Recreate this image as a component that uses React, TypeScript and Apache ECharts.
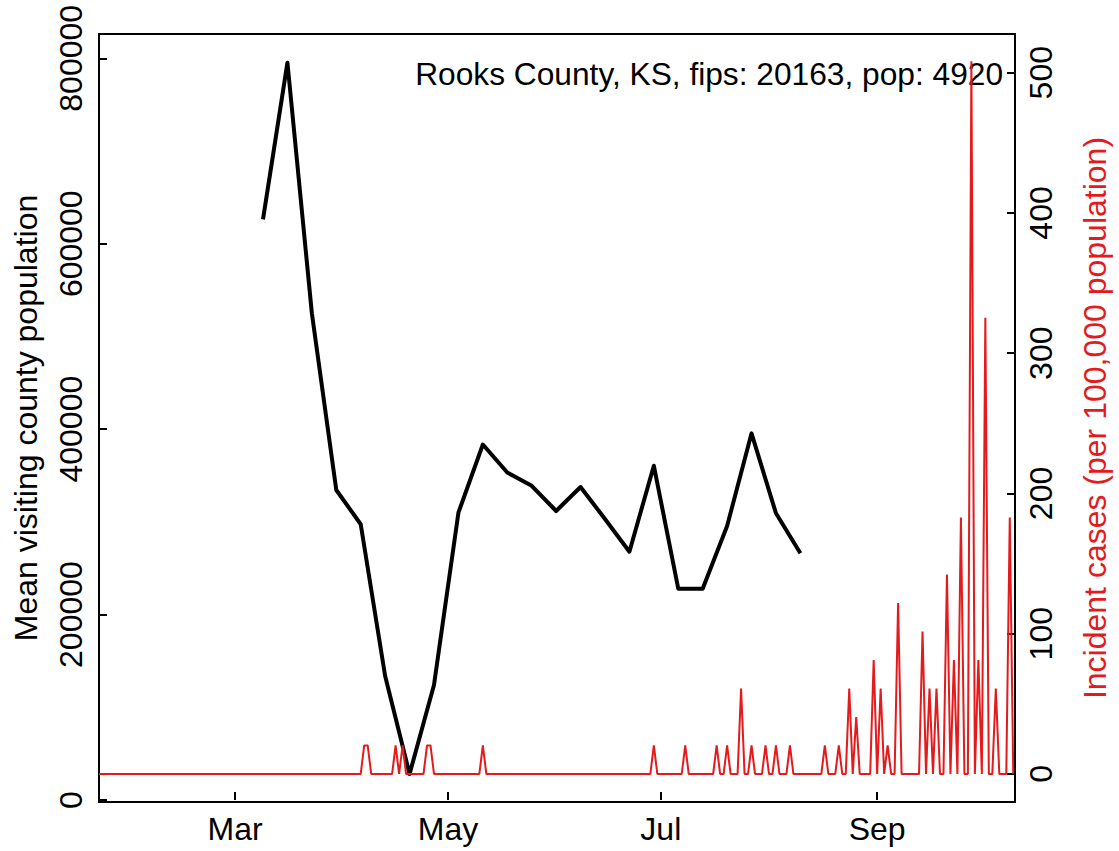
import React, { useEffect, useRef } from "react";
import * as echarts from "echarts";

// ---------- data ----------
const countyTitle = "Rooks County, KS, fips: 20163, pop: 4920";
const population = 4920;

// weekly mean visiting county population (black line)
const visitDates = [
  "2020-03-09", "2020-03-16", "2020-03-23", "2020-03-30", "2020-04-06", "2020-04-13",
  "2020-04-20", "2020-04-27", "2020-05-04", "2020-05-11", "2020-05-18", "2020-05-25",
  "2020-06-01", "2020-06-08", "2020-06-15", "2020-06-22", "2020-06-29", "2020-07-06",
  "2020-07-13", "2020-07-20", "2020-07-27", "2020-08-03", "2020-08-10",
];
const visitValues = [
  626300, 795300, 525000, 334400, 297400, 133700,
  28000, 124000, 309900, 383400, 353200, 338900,
  311700, 337600, 303100, 267800, 360600, 227900,
  227900, 295500, 395500, 309200, 266100,
];

// daily incident case counts (red line); days not listed have 0 cases
const caseSeriesStart = "2020-01-22";
const caseSeriesEnd = "2020-10-10";
const caseDates = [
  "2020-04-07", "2020-04-08", "2020-04-16", "2020-04-18", "2020-04-25", "2020-04-26",
  "2020-05-11", "2020-06-29", "2020-07-08", "2020-07-17", "2020-07-20", "2020-07-24",
  "2020-07-27", "2020-07-31", "2020-08-03", "2020-08-07", "2020-08-17", "2020-08-21",
  "2020-08-24", "2020-08-26", "2020-08-31", "2020-09-02", "2020-09-04", "2020-09-07",
  "2020-09-14", "2020-09-16", "2020-09-18", "2020-09-21", "2020-09-23", "2020-09-25",
  "2020-09-28", "2020-09-30", "2020-10-02", "2020-10-05", "2020-10-09",
];
const caseCounts = [
  1, 1, 1, 1, 1, 1,
  1, 1, 1, 1, 1, 3,
  1, 1, 1, 1, 1, 1,
  3, 2, 4, 3, 1, 6,
  5, 3, 3, 7, 4, 9,
  25, 4, 16, 3, 9,
];

// axis ticks
const xTickDates = ["2020-03-01", "2020-05-01", "2020-07-01", "2020-09-01"];
const xTickLabels = ["Mar", "May", "Jul", "Sep"];
const leftTicks = [0, 200000, 400000, 600000, 800000];
const rightTicks = [0, 100, 200, 300, 400, 500];

const leftName = "Mean visiting county population";
const rightName = "Incident cases (per 100,000 population)";

// ---------- helpers ----------
const DAY = 86400000;
const FONT = "Liberation Sans";
const FS = 32;
const RED = "#E41A1C";

function buildCaseSeries(): [number, number][] {
  const map: Record<number, number> = {};
  caseDates.forEach((d, i) => {
    map[Date.parse(d)] = caseCounts[i];
  });
  const out: [number, number][] = [];
  const s = Date.parse(caseSeriesStart);
  const e = Date.parse(caseSeriesEnd);
  for (let t = s; t <= e; t += DAY) {
    const c = map[t] ?? 0;
    out.push([t, (c * 100000) / population]);
  }
  return out;
}

export default function App() {
  const ref = useRef<HTMLDivElement>(null);

  useEffect(() => {
    if (!ref.current) return;
    const chart = echarts.init(ref.current, undefined, { renderer: "svg" });
    const xTicks = xTickDates.map((d) => Date.parse(d));
    const labelFor: Record<number, string> = {};
    xTicks.forEach((t, i) => (labelFor[t] = xTickLabels[i]));

    const option: any = {
      animation: false,
      backgroundColor: "#fff",
      textStyle: { fontFamily: FONT },
      grid: {
        left: 99,
        top: 34,
        width: 921,
        height: 768,
        show: true,
        borderColor: "#000",
        borderWidth: 2,
        backgroundColor: "transparent",
        containLabel: false,
      },
      xAxis: {
        type: "value",
        min: Date.parse(caseSeriesStart),
        max: Date.parse(caseSeriesEnd) + DAY / 2,
        axisLine: { show: false },
        splitLine: { show: false },
        axisTick: {
          show: true,
          inside: true,
          length: 8,
          customValues: xTicks,
          lineStyle: { color: "#000", width: 2 },
        },
        axisLabel: {
          customValues: xTicks,
          formatter: (v: number) => labelFor[v] ?? "",
          color: "#000",
          fontSize: FS,
          fontFamily: FONT,
          margin: 11,
        },
      },
      yAxis: [
        {
          type: "value",
          position: "left",
          min: -2157,
          max: 826206,
          axisLine: { show: false },
          splitLine: { show: false },
          axisTick: {
            show: true,
            inside: true,
            length: 8,
            customValues: leftTicks,
            lineStyle: { color: "#000", width: 2 },
          },
          axisLabel: {
            customValues: leftTicks,
            formatter: (v: number) => String(v),
            rotate: 90,
            color: "#000",
            fontSize: FS,
            fontFamily: FONT,
            margin: 12,
          },
          name: leftName,
          nameLocation: "middle",
          nameRotate: 90,
          nameGap: 57,
          nameTextStyle: { color: "#000", fontSize: FS, fontFamily: FONT },
        },
        {
          type: "value",
          position: "right",
          min: -20,
          max: 527.6,
          axisLine: { show: false },
          splitLine: { show: false },
          axisTick: {
            show: true,
            inside: true,
            length: 8,
            customValues: rightTicks,
            lineStyle: { color: "#000", width: 2 },
          },
          axisLabel: {
            customValues: rightTicks,
            formatter: (v: number) => String(v),
            rotate: 90,
            color: "#000",
            fontSize: FS,
            fontFamily: FONT,
            margin: 10,
          },
          name: rightName,
          nameLocation: "middle",
          nameRotate: 90,
          nameGap: 64,
          nameTextStyle: { color: RED, fontSize: FS, fontFamily: FONT },
        },
      ],
      graphic: [
        {
          type: "text",
          x: 1003,
          y: 74,
          style: {
            text: countyTitle,
            align: "right",
            verticalAlign: "middle",
            fontSize: 31.7,
            fontFamily: FONT,
            fill: "#000",
          },
        },
      ],
      series: [
        {
          type: "line",
          yAxisIndex: 0,
          data: visitDates.map((d, i) => [Date.parse(d), visitValues[i]]),
          showSymbol: false,
          lineStyle: { color: "#000", width: 4, join: "round" },
          z: 2,
        },
        {
          type: "line",
          yAxisIndex: 1,
          data: buildCaseSeries(),
          showSymbol: false,
          lineStyle: { color: RED, width: 2 },
          z: 3,
        },
      ],
    };
    chart.setOption(option);
    return () => chart.dispose();
  }, []);

  return (
    <div
      ref={ref}
      style={{ position: "fixed", left: 0, top: 0, width: 1119, height: 851, background: "#fff" }}
    />
  );
}
